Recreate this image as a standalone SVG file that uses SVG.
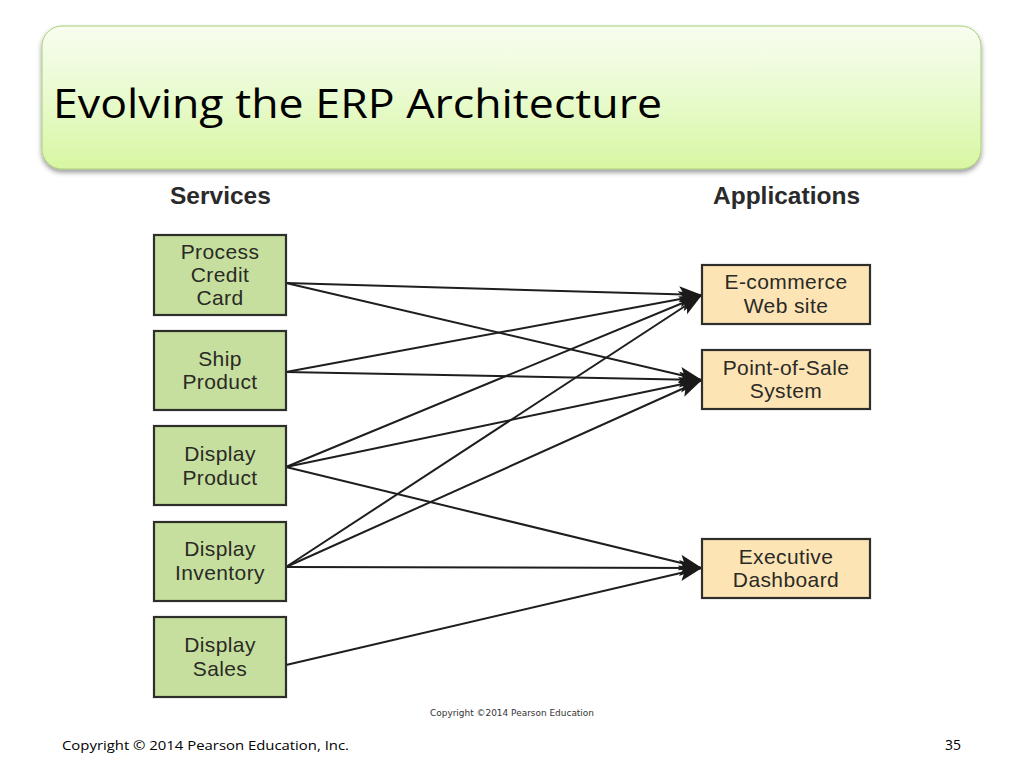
<svg xmlns="http://www.w3.org/2000/svg" width="1024" height="768" viewBox="0 0 1024 768">
<defs>
<linearGradient id="tg" x1="0" y1="0" x2="0" y2="1">
<stop offset="0" stop-color="#f8fdf0"/>
<stop offset="0.45" stop-color="#eafbd2"/>
<stop offset="1" stop-color="#d8f6a2"/>
</linearGradient>
<filter id="sh" x="-5%" y="-10%" width="110%" height="130%">
<feDropShadow dx="0" dy="3" stdDeviation="2.5" flood-color="#000" flood-opacity="0.4"/>
</filter>
<marker id="ah" markerUnits="userSpaceOnUse" markerWidth="26" markerHeight="17" refX="23" refY="8" orient="auto">
<path d="M0,0 L23,8 L0,16 L5,8 z" fill="#1a1a1a"/>
</marker>
<style>
.svc rect{fill:#c6df9e;stroke:#2e2e2a;stroke-width:2.2}
.app rect{fill:#fde4b5;stroke:#2e2e2a;stroke-width:2.2}
.lbl{font-family:"Liberation Sans",Arial,sans-serif;font-size:21px;letter-spacing:0.4px;fill:#2a2a26;text-anchor:middle}
.hdr{font-family:"Liberation Sans",Arial,sans-serif;font-size:24.5px;font-weight:bold;fill:#2a2a2a}
#connectors line{stroke:#1e1e1e;stroke-width:2;marker-end:url(#ah)}
</style>
</defs>
<rect width="1024" height="768" fill="#ffffff"/>
<g id="title">
<rect x="42" y="26" width="939" height="143" rx="20" ry="20" fill="url(#tg)" stroke="#a9cf7a" stroke-width="1" filter="url(#sh)"/>
<text x="53" y="118" font-family="'Open Sans','Noto Sans',sans-serif" font-size="41" fill="#000" textLength="609" lengthAdjust="spacingAndGlyphs">Evolving the ERP Architecture</text>
</g>
<text class="hdr" x="170" y="204">Services</text>
<text class="hdr" x="713" y="204">Applications</text>
<g id="connectors">
<line x1="286" y1="283" x2="702" y2="295"/>
<line x1="286" y1="283" x2="702" y2="380"/>
<line x1="286" y1="372" x2="702" y2="295"/>
<line x1="286" y1="372" x2="702" y2="380"/>
<line x1="286" y1="467" x2="702" y2="295"/>
<line x1="286" y1="467" x2="702" y2="380"/>
<line x1="286" y1="467" x2="702" y2="568"/>
<line x1="286" y1="567" x2="702" y2="295"/>
<line x1="286" y1="567" x2="702" y2="380"/>
<line x1="286" y1="567" x2="702" y2="568"/>
<line x1="286" y1="665" x2="702" y2="568"/>
</g>
<g id="svc-process-credit-card" class="svc">
<rect x="154" y="235" width="132" height="80"/>
<text class="lbl" x="220" y="259">Process</text>
<text class="lbl" x="220" y="282">Credit</text>
<text class="lbl" x="220" y="305">Card</text>
</g>
<g id="svc-ship-product" class="svc">
<rect x="154" y="331" width="132" height="79"/>
<text class="lbl" x="220" y="366">Ship</text>
<text class="lbl" x="220" y="389">Product</text>
</g>
<g id="svc-display-product" class="svc">
<rect x="154" y="426" width="132" height="79"/>
<text class="lbl" x="220" y="461">Display</text>
<text class="lbl" x="220" y="485">Product</text>
</g>
<g id="svc-display-inventory" class="svc">
<rect x="154" y="522" width="132" height="79"/>
<text class="lbl" x="220" y="556">Display</text>
<text class="lbl" x="220" y="580">Inventory</text>
</g>
<g id="svc-display-sales" class="svc">
<rect x="154" y="617" width="132" height="80"/>
<text class="lbl" x="220" y="652">Display</text>
<text class="lbl" x="220" y="676">Sales</text>
</g>
<g id="app-ecommerce" class="app">
<rect x="702" y="265" width="168" height="59"/>
<text class="lbl" x="786" y="289">E-commerce</text>
<text class="lbl" x="786" y="313">Web site</text>
</g>
<g id="app-pos" class="app">
<rect x="702" y="350" width="168" height="59"/>
<text class="lbl" x="786" y="375">Point-of-Sale</text>
<text class="lbl" x="786" y="398">System</text>
</g>
<g id="app-exec" class="app">
<rect x="702" y="539" width="168" height="59"/>
<text class="lbl" x="786" y="564">Executive</text>
<text class="lbl" x="786" y="587">Dashboard</text>
</g>
<text x="430" y="716" font-family="'DejaVu Sans',Verdana,sans-serif" font-size="9" fill="#333" textLength="164" lengthAdjust="spacingAndGlyphs">Copyright ©2014 Pearson Education</text>
<text x="62" y="750" font-family="'Open Sans','Noto Sans',sans-serif" font-size="13.5" fill="#000" textLength="287" lengthAdjust="spacingAndGlyphs">Copyright © 2014 Pearson Education, Inc.</text>
<text x="945" y="750" font-family="'Open Sans','Noto Sans',sans-serif" font-size="14" fill="#000">35</text>
</svg>
